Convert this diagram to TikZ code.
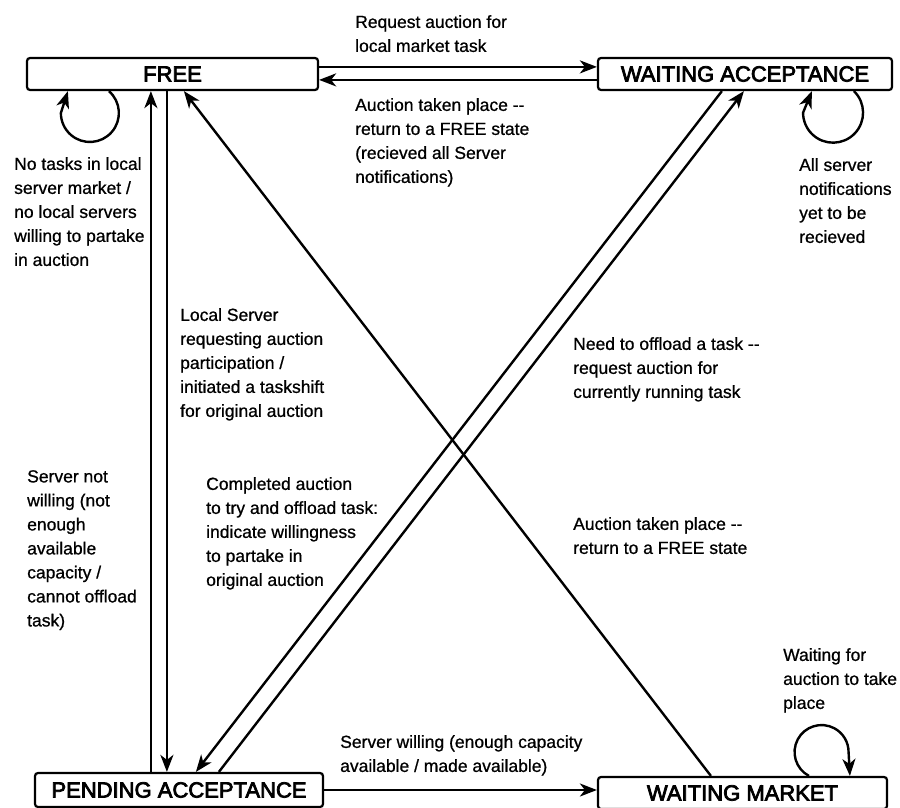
\documentclass[tikz,border=0pt]{standalone}
\usepackage{fontspec}
\setmainfont{Liberation Sans}
\newfontfamily\statefont{Liberation Sans}[FakeBold=3.5]
\newfontfamily\lblfont{Liberation Sans}[FakeBold=0.8]
\usepackage{tikz}
\usetikzlibrary{arrows.meta,calc}

\tikzset{
  state/.style={draw, line width=2.2pt, rounded corners=3pt, minimum height=32pt, inner sep=0pt, font=\statefont\fontsize{22}{26}\selectfont},
  lbl/.style={anchor=north west, inner sep=0pt, align=left, font=\lblfont\fontsize{17.5}{24}\selectfont},
  arr/.style={-{Stealth[length=17pt,width=13pt,inset=5pt]}, line width=2.4pt}
}

\begin{document}
\begin{tikzpicture}[x=1pt,y=-1pt]
        \useasboundingbox (0,0) rectangle (900,808);

        \node[state, minimum width=291pt] (free) at (172.5,74) {FREE};
        \node[state, minimum width=294pt] (waitacc) at (745,74) {WAITING ACCEPTANCE};
        \node[state, minimum width=288pt, minimum height=34pt] (pending) at (179,790) {PENDING ACCEPTANCE};
        \node[state, minimum width=289pt] (waitmkt) at (742.5,793) {WAITING MARKET};

        \draw[arr] ([yshift=-10pt]free.north east) -- ([yshift=-10pt]waitacc.north west);
        \draw[arr] ([yshift=-23pt]waitacc.north west) -- ([yshift=-23pt]free.north east);

        \draw[arr] ([xshift=83pt]free.south west) arc[start angle=-49, end angle=180, radius=29] -- ([xshift=42pt]free.south west);
        \draw[arr] ([xshift=257pt]waitacc.south west) arc[start angle=-46, end angle=180, radius=30] -- ([xshift=215pt]waitacc.south west);
        \draw[arr] ([xshift=212pt]waitmkt.north west) arc[start angle=-242, end angle=0, radius=27] -- ([xshift=253pt]waitmkt.north west);

        \draw[arr] ([xshift=117pt]pending.north west) -- ([xshift=125pt]free.south west);
        \draw[arr] ([xshift=141pt]free.south west) -- ([xshift=133pt]pending.north west);
        \draw[arr] ([xshift=114pt]waitmkt.north west) -- ([xshift=158pt]free.south west);
        \draw[arr] ([xshift=125pt]waitacc.south west) -- ([xshift=162pt]pending.north west);
        \draw[arr] ([xshift=185pt]pending.north west) -- ([xshift=147pt]waitacc.south west);
        \draw[arr] (pending.east) -- (pending.east -| waitmkt.west);

        \node[lbl] (lreq) at (355,15) {Request auction for\\local market task};
        \node[lbl] (lret) at (355,98) {Auction taken place -{}-\\return to a FREE state\\(recieved all Server\\notifications)};
        \node[lbl] (lnotask) at (14,157) {No tasks in local\\server market /\\no local servers\\willing to partake\\in auction};
        \node[lbl] (lallsrv) at (799,158) {All server\\notifications\\yet to be\\recieved};
        \node[lbl] (llocal) at (180,308) {Local Server\\requesting auction\\participation /\\initiated a taskshift\\for original auction};
        \node[lbl] (loffload) at (573,337) {Need to offload a task -{}-\\request auction for\\currently running task};
        \node[lbl] (lnotwill) at (27,470) {Server not\\willing (not\\enough\\available\\capacity /\\cannot offload\\task)};
        \node[lbl] (lcompl) at (206,477) {Completed auction\\to try and offload task:\\indicate willingness\\to partake in\\original auction};
        \node[lbl] (lauct) at (573,517) {Auction taken place -{}-\\return to a FREE state};
        \node[lbl] (lwill) at (340,735) {Server willing (enough capacity\\available / made available)};
        \node[lbl] (lwait) at (783,648) {Waiting for\\auction to take\\place};
    \end{tikzpicture}
\end{document}
